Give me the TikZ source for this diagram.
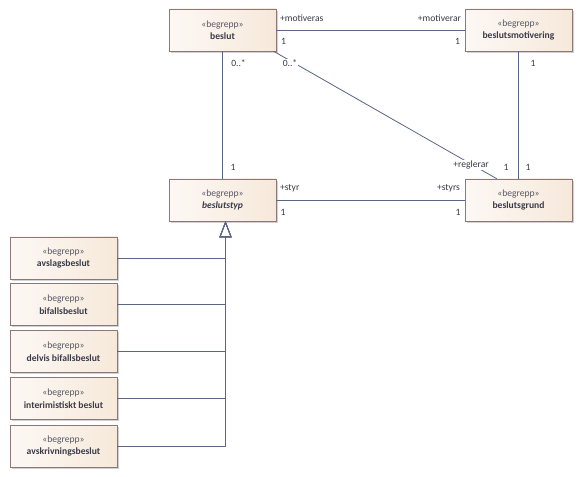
\documentclass[tikz,border=0pt]{standalone}
\usepackage{fontspec}
\setmainfont{Carlito}
\usetikzlibrary{shadows, arrows.meta}

\definecolor{boxline}{HTML}{8C7878}
\definecolor{boxleft}{HTML}{FDF8F5}
\definecolor{boxright}{HTML}{F6E9DA}
\definecolor{connline}{HTML}{5B6585}
\definecolor{textcol}{HTML}{3A3A48}

\tikzset{
  concept/.style = {draw = boxline, left color = boxleft, right color = boxright,
    minimum width = 80.25pt, minimum height = 31.5pt, inner sep = 0pt,
    align = center, text = textcol, font = \fontsize{7.2}{9.4}\selectfont,
    drop shadow = {shadow xshift = 1.2pt, shadow yshift = -1.2pt, fill = black!18, opacity = 1}},
  assoc/.style = {draw = connline, line width = 0.6pt},
  general/.style = {assoc, -{Triangle[open, length = 12pt, width = 9pt]}},
  role/.style = {inner sep = 0.6pt, fill = white, text = textcol, font = \fontsize{7.2}{8.6}\selectfont}
}
\newcommand{\concepttext}[1]{{\color{textcol!85}\guillemotleft begrepp\guillemotright}\\\textbf{#1}}

\begin{document}
\begin{tikzpicture}[x = 0.75pt, y = -0.75pt]
\useasboundingbox (0, 0) rectangle (582, 477);

\node[concept] (beslut) at (222.5, 30) {\concepttext{beslut}};
\node[concept] (motivering) at (518.5, 30) {\concepttext{beslutsmotivering}};
\node[concept] (typ) at (222.5, 200) {\concepttext{\textit{beslutstyp}}};
\node[concept] (grund) at (518.5, 200) {\concepttext{beslutsgrund}};

\node[concept] (avslag) at (63.5, 258) {\concepttext{avslagsbeslut}};
\node[concept] (bifall) at (63.5, 304.5) {\concepttext{bifallsbeslut}};
\node[concept] (delvis) at (63.5, 351.5) {\concepttext{delvis bifallsbeslut}};
\node[concept] (interim) at (63.5, 398.5) {\concepttext{interimistiskt beslut}};
\node[concept] (avskrivning) at (63.5, 446) {\concepttext{avskrivningsbeslut}};

% associations
\draw[assoc] (beslut) -- (motivering);
\draw[assoc] (beslut) -- (typ);
\draw[assoc] (motivering) -- (grund);
\draw[assoc] (typ) -- (grund);
\draw[assoc] ([xshift = -2pt]beslut.south east) -- ([xshift = 24pt]grund.north west);

% generalization
\coordinate (gentip) at ([xshift = 2.25pt]typ.south);
\foreach \child in {avslag, bifall, delvis, interim, avskrivning}
  \draw[general] (\child.east) -| (gentip);

% role names and multiplicities
\node[role, anchor = west] (motiveras) at (279, 18) {+motiveras};
\node[role, anchor = west] (beslutone) at (280, 41) {1};
\node[role, anchor = east] (motiverar) at (462, 18) {+motiverar};
\node[role, anchor = east] (motiveringone) at (461, 41) {1};
\node[role] (motiveringdown) at (533, 63) {1};
\node[role] (beslutmany) at (238.5, 63) {0..*};
\node[role] (beslutmanytwo) at (290, 63) {0..*};
\node[role] (typone) at (233, 167) {1};
\node[role, anchor = west] (styr) at (279, 188) {+styr};
\node[role] (typright) at (283, 212) {1};
\node[role, anchor = east] (styrs) at (461, 188) {+styrs};
\node[role] (grundleft) at (458, 212) {1};
\node[role] (reglerar) at (471, 165) {+reglerar};
\node[role] (reglerarone) at (506, 167) {1};
\node[role] (grundup) at (528, 167) {1};
\end{tikzpicture}
\end{document}
